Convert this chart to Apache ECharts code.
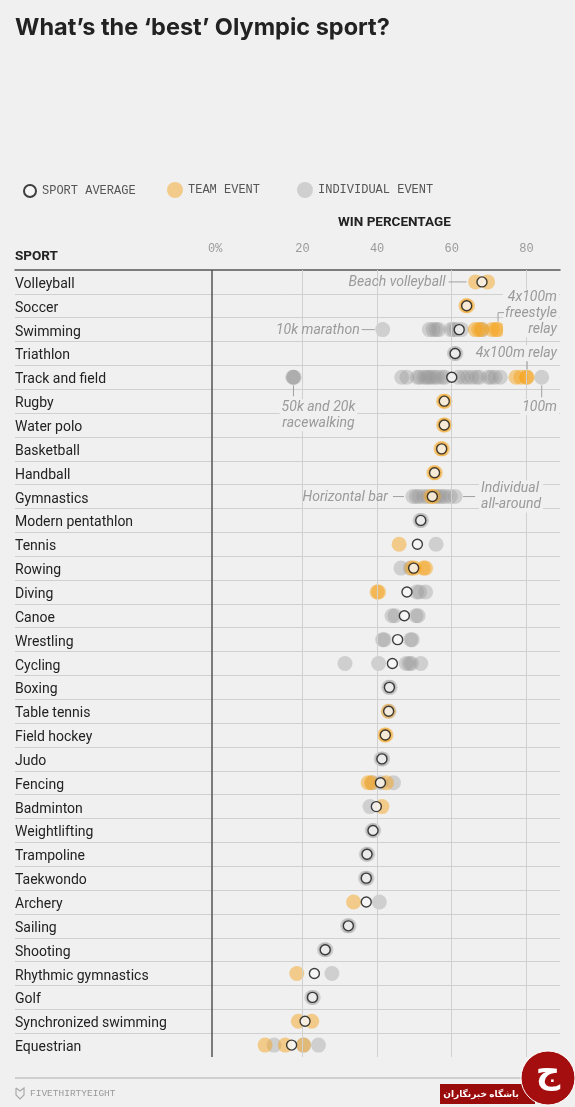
<!DOCTYPE html>
<html>
<head>
<meta charset="utf-8">
<script src="https://cdn.jsdelivr.net/npm/echarts@6/dist/echarts.min.js"></script>
<style>
html,body{margin:0;padding:0;background:#f0f0f0;}
#chart{width:575px;height:1107px;}
</style>
</head>
<body>
<div id="chart"></div>
<script>
// ---------- DATA ----------
const sports = ['Volleyball','Soccer','Swimming','Triathlon','Track and field','Rugby','Water polo','Basketball','Handball','Gymnastics','Modern pentathlon','Tennis','Rowing','Diving','Canoe','Wrestling','Cycling','Boxing','Table tennis','Field hockey','Judo','Fencing','Badminton','Weightlifting','Trampoline','Taekwondo','Archery','Sailing','Shooting','Rhythmic gymnastics','Golf','Synchronized swimming','Equestrian'];

const sportAverage = [68.1, 64.0, 62.0, 60.9, 60.0, 58.0, 58.0, 57.3, 55.4, 54.8, 51.7, 50.8, 49.8, 48.0, 47.3, 45.5, 44.1, 43.3, 43.1, 42.2, 41.3, 40.9, 39.8, 38.9, 37.3, 37.1, 37.1, 32.3, 26.1, 23.2, 22.7, 20.7, 17.1];

const teamEvents = [
  [66.4, 69.6],                       // Volleyball
  [63.8, 64.2],                       // Soccer
  [66.3, 67.2, 68.0, 70.8, 71.8, 72.4], // Swimming
  [],                                 // Triathlon
  [77.2, 78.5, 80.0, 80.2],           // Track and field
  [57.8, 58.2],                       // Rugby
  [57.8, 58.2],                       // Water polo
  [57.1, 57.5],                       // Basketball
  [55.2, 55.6],                       // Handball
  [54.4, 55.1],                       // Gymnastics
  [],                                 // Modern pentathlon
  [45.9],                             // Tennis
  [49.3, 50.0, 52.4, 53.0],           // Rowing
  [40.0, 40.4],                       // Diving
  [], [], [], [],                     // Canoe, Wrestling, Cycling, Boxing
  [43.0],                             // Table tennis
  [42.0, 42.4],                       // Field hockey
  [],                                 // Judo
  [37.6, 38.5, 42.5],                 // Fencing
  [41.3],                             // Badminton
  [], [], [],                         // Weightlifting, Trampoline, Taekwondo
  [33.7],                             // Archery
  [], [],                             // Sailing, Shooting
  [18.5],                             // Rhythmic gymnastics
  [],                                 // Golf
  [18.9, 22.5],                       // Synchronized swimming
  [10.0, 15.4, 20.3]                  // Equestrian
];

const individualEvents = [
  [],                                 // Volleyball
  [],                                 // Soccer
  [41.5, 54.0, 55.0, 55.8, 56.5, 59.8, 60.5, 61.3, 62.6, 68.1], // Swimming
  [60.7, 61.1],                       // Triathlon
  [17.4, 17.6, 17.8, 46.6, 48.0, 50.8, 51.5, 52.6, 53.3, 53.9, 54.6, 55.4, 56.2, 57.4, 58.2, 61.8, 63.1, 64.2, 65.4, 66.6, 67.4, 69.8, 70.6, 71.6, 73.0, 84.1], // Track and field
  [], [], [], [],                     // Rugby, Water polo, Basketball, Handball
  [49.6, 50.5, 51.3, 52.5, 53.5, 55.8, 56.6, 57.4, 58.3, 59.6, 60.9], // Gymnastics
  [51.5, 51.9],                       // Modern pentathlon
  [55.8],                             // Tennis
  [46.4, 48.9],                       // Rowing
  [50.6, 51.4, 53.0],                 // Diving
  [44.0, 44.8, 50.4, 51.0],           // Canoe
  [41.5, 41.9, 49.0, 49.4],           // Wrestling
  [31.4, 40.4, 47.8, 48.6, 49.2, 51.7], // Cycling
  [43.1, 43.5],                       // Boxing
  [43.2],                             // Table tennis
  [],                                 // Field hockey
  [41.1, 41.5],                       // Judo
  [38.8, 41.0, 44.4],                 // Fencing
  [38.1],                             // Badminton
  [38.7, 39.1],                       // Weightlifting
  [37.1, 37.5],                       // Trampoline
  [36.9, 37.3],                       // Taekwondo
  [40.6],                             // Archery
  [32.1, 32.5],                       // Sailing
  [25.9, 26.3],                       // Shooting
  [27.9],                             // Rhythmic gymnastics
  [22.5, 22.9],                       // Golf
  [],                                 // Synchronized swimming
  [12.4, 20.3, 24.3]                  // Equestrian
];

const tickValues = [20, 40, 60, 80];
const zeroTickLabel = '0%';

// ---------- CHART ----------
const XMIN = -57, XMAX = 89, ZERO_LINE = -4.3;
const BG = '#f0f0f0';

function flatten(groups){
  const out = [];
  groups.forEach((arr, i) => arr.forEach(v => out.push([v, i])));
  return out;
}

const chart = echarts.init(document.getElementById('chart'), null, {renderer:'canvas'});

const monoFont = 'Liberation Mono';
const sansFont = 'Roboto';

const option = {
  backgroundColor: BG,
  animation: false,
  title: [
    {text: 'What\u2019s the \u2018best\u2019 Olympic sport?', left: 10, top: 11,
     textStyle: {fontFamily: 'Inter', fontSize: 23.5, fontWeight: 'bold', color: '#222'}},
    {text: 'WIN PERCENTAGE', left: 333, top: 211,
     textStyle: {fontFamily: sansFont, fontSize: 13.5, fontWeight: 'bold', color: '#222'}},
    {text: 'SPORT', left: 10, top: 245,
     textStyle: {fontFamily: sansFont, fontSize: 13.5, fontWeight: 'bold', color: '#222'}},
    {text: 'FIVETHIRTYEIGHT', left: 25, top: 1083,
     textStyle: {fontFamily: monoFont, fontSize: 9.5, fontWeight: 'normal', color: '#999'}}
  ],
  legend: [
    {data: ['SPORT AVERAGE'], left: 18, top: 179, itemWidth: 12, itemHeight: 12, selectedMode: false,
     textStyle: {fontFamily: monoFont, fontSize: 12, color: '#555', padding: [0,0,0,1]}},
    {data: ['TEAM EVENT'], left: 162, top: 177, itemWidth: 16, itemHeight: 16, selectedMode: false,
     textStyle: {fontFamily: monoFont, fontSize: 12, color: '#555', padding: [0,0,0,0]}},
    {data: ['INDIVIDUAL EVENT'], left: 292, top: 177, itemWidth: 16, itemHeight: 16, selectedMode: false,
     textStyle: {fontFamily: monoFont, fontSize: 12, color: '#555', padding: [0,0,0,0]}}
  ],
  grid: {left: 15, right: 15, top: 270, height: 787, containLabel: false},
  xAxis: {
    type: 'value', min: XMIN, max: XMAX, position: 'top',
    axisLine: {show: true, onZero: false, lineStyle: {color: '#555', width: 1.5}},
    axisTick: {show: false},
    splitLine: {show: false},
    axisLabel: {
      customValues: [ZERO_LINE].concat(tickValues),
      margin: 15,
      fontFamily: monoFont, fontSize: 12, color: '#9a9a9a',
      formatter: v => (v < 0 ? '{z|' + zeroTickLabel + '}' : String(v)),
      rich: {z: {fontFamily: monoFont, fontSize: 12, color: '#9a9a9a', padding: [0,0,0,7]}}
    }
  },
  yAxis: [
    {type: 'category', data: sports, inverse: true,
     axisLine: {show: false}, axisTick: {show: false}, splitLine: {show: false},
     axisLabel: {inside: true, margin: 0, color: '#222',
       formatter: v => '{s|' + v + '}',
       rich: {s: {fontFamily: sansFont, fontSize: 14, color: '#222', padding: [5,0,0,0]}}}},
    {type: 'value', min: 0, max: sports.length, inverse: true, show: false}
  ],
  series: [
    {
      name: 'rows', type: 'line', yAxisIndex: 1, data: [], silent: true, z: 1,
      markLine: {
        silent: true, symbol: 'none', label: {show: false}, animation: false,
        data: sports.slice(1).map((s, i) => ({yAxis: i + 1, lineStyle: {color: '#d0d0d0', width: 1, type: 'solid'}}))
          .concat(tickValues.map(t => ({xAxis: t, lineStyle: {color: '#d0d0d0', width: 1, type: 'solid'}})))
          .concat([{xAxis: ZERO_LINE, lineStyle: {color: '#555', width: 1.5, type: 'solid'}}])
      }
    },
    {
      name: 'INDIVIDUAL EVENT', type: 'scatter', data: flatten(individualEvents),
      symbol: 'circle', symbolSize: 15, z: 3,
      itemStyle: {color: 'rgba(150,150,150,0.45)'}
    },
    {
      name: 'TEAM EVENT', type: 'scatter', data: flatten(teamEvents),
      symbol: 'circle', symbolSize: 15, z: 4,
      itemStyle: {color: 'rgba(245,162,28,0.6)'}
    },
    {
      name: 'SPORT AVERAGE', type: 'scatter', data: sportAverage.map((v, i) => [v, i]),
      symbol: 'circle', symbolSize: 10, z: 5,
      itemStyle: {color: '#f7f7f7', borderColor: '#111', borderWidth: 1.4}
    }
  ]
};

chart.setOption(option);

// ---------- ANNOTATIONS (anchored to data through the axes) ----------
function px(v, i){ return chart.convertToPixel({xAxisIndex: 0, yAxisIndex: 0}, [v, i]); }
const R = px(XMAX, 0)[0] - 1;
const annoFont = 'italic 14px Roboto';
const annoColor = '#9a9a9a';
function txt(text, x, y, align, bg){
  return {type: 'text', z: 20, silent: true,
    style: {text: text, x: x, y: y, align: align, verticalAlign: 'middle', fill: annoColor,
            font: annoFont, lineHeight: 16,
            backgroundColor: bg ? BG : null, padding: bg ? [0, 2, 0, 2] : 0}};
}
function seg(points){
  return {type: 'polyline', z: 20, silent: true, shape: {points: points},
          style: {stroke: '#a0a0a0', lineWidth: 1, fill: null}};
}
const g = [];
let p;
// Beach volleyball
p = px(teamEvents[0][0], 0);
g.push(txt('Beach volleyball', p[0] - 30, p[1] + 1, 'right'));
g.push(seg([[p[0] - 27, p[1]], [p[0] - 9, p[1]]]));
// 4x100m freestyle relay
p = px(teamEvents[2][5], 2);
g.push(txt('4x100m\nfreestyle\nrelay', R, p[1] - 16, 'right', true));
g.push(seg([[p[0], p[1] - 8], [p[0], p[1] - 17], [p[0] + 6, p[1] - 17]]));
// 10k marathon
p = px(individualEvents[2][0], 2);
g.push(txt('10k marathon', p[0] - 23, p[1] + 1, 'right'));
g.push(seg([[p[0] - 21, p[1]], [p[0] - 8, p[1]]]));
// 4x100m relay
p = px(teamEvents[4][3], 4);
g.push(txt('4x100m relay', R, p[1] - 24, 'right', true));
g.push(seg([[p[0], p[1] - 16], [p[0], p[1] - 8]]));
// 50k and 20k racewalking
p = px(individualEvents[4][1], 4);
g.push(seg([[p[0], p[1] + 8], [p[0], p[1] + 19]]));
g.push(txt('50k and 20k\nracewalking', p[0] + 25, p[1] + 38, 'center', true));
// 100m
p = px(individualEvents[4][25], 4);
g.push(seg([[p[0], p[1] + 8], [p[0], p[1] + 20]]));
g.push(txt('100m', R, p[1] + 30, 'right', true));
// Horizontal bar
p = px(individualEvents[9][0], 9);
g.push(txt('Horizontal bar', p[0] - 25, p[1] + 1, 'right'));
g.push(seg([[p[0] - 20, p[1]], [p[0] - 9, p[1]]]));
// Individual all-around
p = px(individualEvents[9][10], 9);
g.push(seg([[p[0] + 8, p[1]], [p[0] + 20, p[1]]]));
g.push(txt('Individual\nall-around', p[0] + 24, p[1], 'left', true));

// footer rule and logo
g.push({type: 'line', silent: true, shape: {x1: 15, y1: 1078, x2: 560, y2: 1078}, style: {stroke: '#cfcfcf', lineWidth: 2}});
g.push({type: 'polyline', silent: true, shape: {points: [[16,1088],[20,1091],[24,1088],[24,1095],[20,1099],[16,1095],[16,1088]]},
        style: {stroke: '#aaa', lineWidth: 1.2, fill: null}});
// watermark badge
g.push({type: 'rect', silent: true, z: 30, shape: {x: 440, y: 1084, width: 95, height: 20}, style: {fill: '#9a0b0b'}});
g.push({type: 'text', silent: true, z: 31, style: {text: '\u0628\u0627\u0634\u06AF\u0627\u0647 \u062E\u0628\u0631\u0646\u06AF\u0627\u0631\u0627\u0646', x: 481, y: 1094, align: 'center', verticalAlign: 'middle', fill: '#fff', font: 'bold 9px "Noto Sans", "DejaVu Sans"'}});
g.push({type: 'circle', silent: true, z: 32, shape: {cx: 548, cy: 1078, r: 27}, style: {fill: '#a50e0e', stroke: '#fff', lineWidth: 1}});
g.push({type: 'text', silent: true, z: 33, style: {text: '\u062C', x: 548, y: 1074, align: 'center', verticalAlign: 'middle', fill: '#fff', font: 'bold 34px "DejaVu Sans"'}});

chart.setOption({graphic: g});
</script>
</body>
</html>
